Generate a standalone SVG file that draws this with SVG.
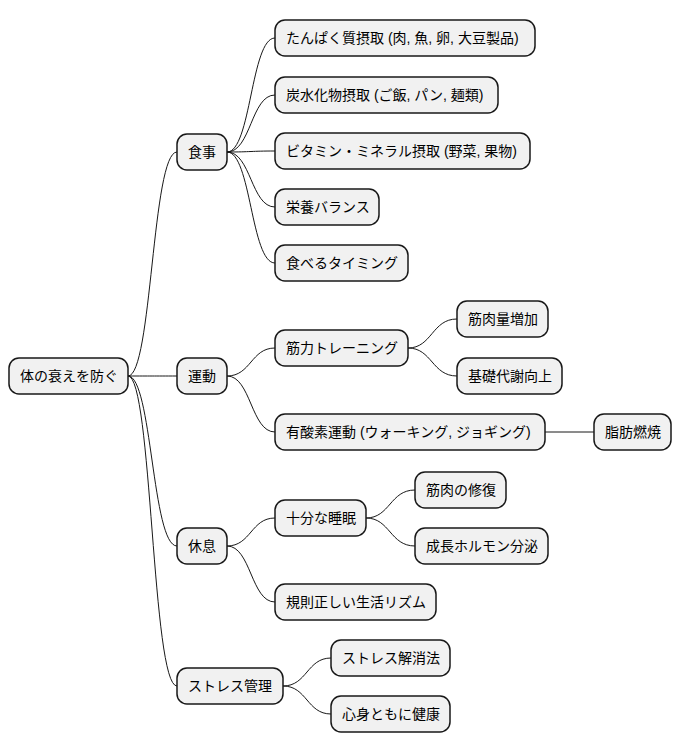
<svg xmlns="http://www.w3.org/2000/svg" width="681" height="752" viewBox="0 0 681 752">
<style>
rect{fill:#f1f1f1;stroke:#181818;stroke-width:1.5}
text{font-family:"Liberation Sans","Noto Sans CJK JP",sans-serif;font-size:14px;fill:#000;dominant-baseline:central}
#edges path{fill:none;stroke:#181818;stroke-width:1}
</style>
<rect x="0" y="0" width="681" height="752" style="fill:#fff;stroke:none"/>
<g id="edges">
<path d="M128 376 C152 376 152 152 177 152"/>
<path d="M128 376 C152 376 152 376 177 376"/>
<path d="M128 376 C152 376 152 546 177 546"/>
<path d="M128 376 C152 376 152 686 177 686"/>
<path d="M227 152 C251 152 251 38 275 38"/>
<path d="M227 152 C251 152 251 95 275 95"/>
<path d="M227 152 C251 152 251 151 275 151"/>
<path d="M227 152 C251 152 251 207 275 207"/>
<path d="M227 152 C251 152 251 263 275 263"/>
<path d="M227 376 C251 376 251 348 275 348"/>
<path d="M227 376 C251 376 251 432 275 432"/>
<path d="M408 348 C432 348 432 319 457 319"/>
<path d="M408 348 C432 348 432 376 457 376"/>
<path d="M545 432 L594 432"/>
<path d="M227 546 C251 546 251 518 275 518"/>
<path d="M227 546 C251 546 251 602 275 602"/>
<path d="M366 518 C390 518 390 490 415 490"/>
<path d="M366 518 C390 518 390 546 415 546"/>
<path d="M283 686 C307 686 307 658 331 658"/>
<path d="M283 686 C307 686 307 714 331 714"/>
</g>
<g id="root"><rect x="9" y="358" width="119" height="36" rx="10"/><text x="20" y="376">体の衰えを防ぐ</text></g>
<g id="n1"><rect x="177" y="134" width="50" height="36" rx="10"/><text x="188" y="152">食事</text></g>
<g id="n2"><rect x="177" y="358" width="50" height="36" rx="10"/><text x="188" y="376">運動</text></g>
<g id="n3"><rect x="177" y="528" width="50" height="36" rx="10"/><text x="188" y="546">休息</text></g>
<g id="n4"><rect x="177" y="668" width="106" height="36" rx="10"/><text x="188" y="686">ストレス管理</text></g>
<g id="n11"><rect x="275" y="20" width="260" height="36" rx="10"/><text x="286" y="38">たんぱく質摂取 (肉, 魚, 卵, 大豆製品)</text></g>
<g id="n12"><rect x="275" y="77" width="223" height="36" rx="10"/><text x="286" y="95">炭水化物摂取 (ご飯, パン, 麺類)</text></g>
<g id="n13"><rect x="275" y="133" width="255" height="36" rx="10"/><text x="286" y="151">ビタミン・ミネラル摂取 (野菜, 果物)</text></g>
<g id="n14"><rect x="275" y="189" width="104" height="36" rx="10"/><text x="286" y="207">栄養バランス</text></g>
<g id="n15"><rect x="275" y="245" width="133" height="36" rx="10"/><text x="286" y="263">食べるタイミング</text></g>
<g id="n21"><rect x="275" y="330" width="133" height="36" rx="10"/><text x="286" y="348">筋力トレーニング</text></g>
<g id="n211"><rect x="457" y="301" width="91" height="36" rx="10"/><text x="468" y="319">筋肉量増加</text></g>
<g id="n212"><rect x="457" y="358" width="105" height="36" rx="10"/><text x="468" y="376">基礎代謝向上</text></g>
<g id="n22"><rect x="275" y="414" width="270" height="36" rx="10"/><text x="286" y="432">有酸素運動 (ウォーキング, ジョギング)</text></g>
<g id="n221"><rect x="594" y="414" width="77" height="36" rx="10"/><text x="605" y="432">脂肪燃焼</text></g>
<g id="n31"><rect x="275" y="500" width="91" height="36" rx="10"/><text x="286" y="518">十分な睡眠</text></g>
<g id="n311"><rect x="415" y="472" width="91" height="36" rx="10"/><text x="426" y="490">筋肉の修復</text></g>
<g id="n312"><rect x="415" y="528" width="133" height="36" rx="10"/><text x="426" y="546">成長ホルモン分泌</text></g>
<g id="n32"><rect x="275" y="584" width="161" height="36" rx="10"/><text x="286" y="602">規則正しい生活リズム</text></g>
<g id="n41"><rect x="331" y="640" width="119" height="36" rx="10"/><text x="342" y="658">ストレス解消法</text></g>
<g id="n42"><rect x="331" y="696" width="119" height="36" rx="10"/><text x="342" y="714">心身ともに健康</text></g>
</svg>
